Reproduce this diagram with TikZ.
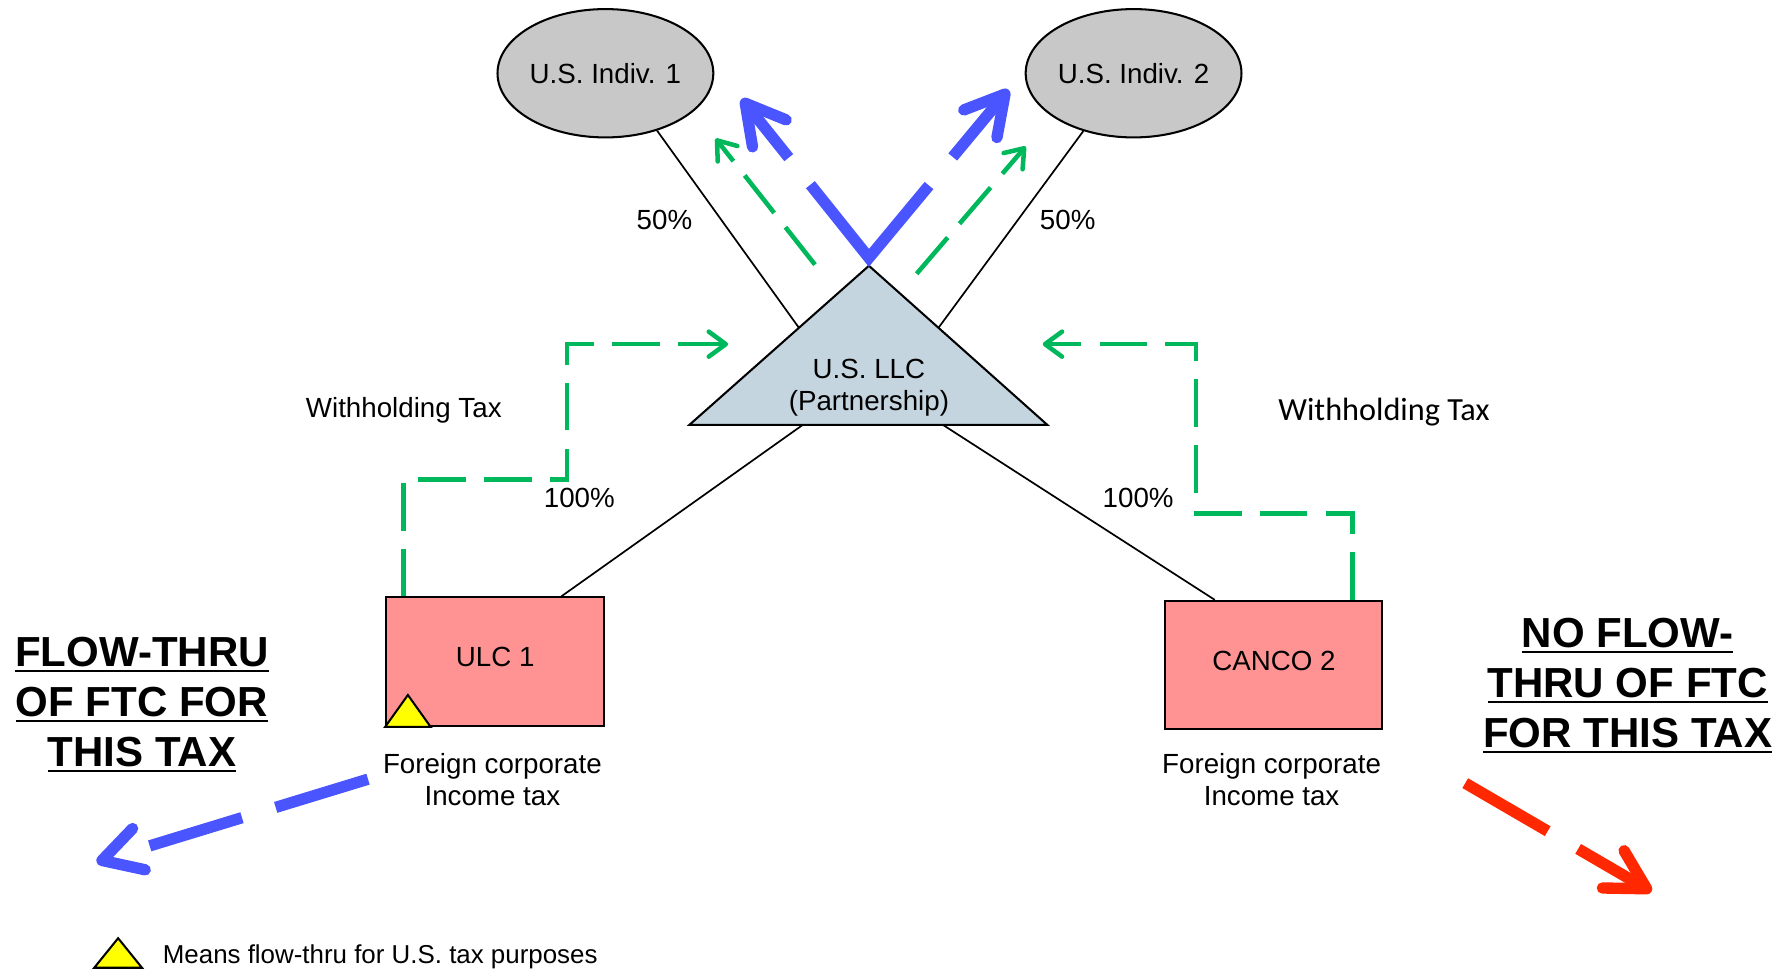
\documentclass[tikz,border=0pt]{standalone}
\usepackage{fontspec}
\setmainfont{Liberation Sans}
\newfontfamily\calfont{Carlito}
\usetikzlibrary{arrows.meta,calc,shapes.geometric}

\definecolor{flowblue}{HTML}{4B55FF}
\definecolor{whgreen}{HTML}{00B85C}
\definecolor{noflowred}{HTML}{FF2800}
\definecolor{corppink}{HTML}{FF9393}
\definecolor{indivgray}{HTML}{C8C8C8}
\definecolor{llcblue}{HTML}{C5D5DF}
\definecolor{flagyellow}{HTML}{FFFF00}

% bold heading line with a thick underline
\newcommand\headul[1]{\setbox0\hbox{#1}\rlap{\rule[-2.4pt]{\wd0}{0.9pt}}\box0}

\tikzset{
  base text/.style={font=\fontsize{12.2pt}{14pt}\selectfont, inner sep=0pt},
  lbl/.style={base text, anchor=base},
  indiv/.style={ellipse, draw, line width=0.9pt, fill=indivgray,
    minimum width=95pt, minimum height=56.5pt, base text},
  corp/.style={rectangle, draw, line width=0.9pt, fill=corppink,
    minimum height=56.5pt, base text, text depth=4pt},
  own/.style={draw, line width=0.75pt},
  wht/.style={whgreen, line width=2pt, dash pattern=on 21pt off 8pt,
    -{Straight Barb[round, length=7.5pt, width=11pt]}},
  bigarrow/.style={line width=5pt},
  bigtip/.style={-{Straight Barb[round, length=17pt, width=19pt]}},
  headline/.style={font=\fontsize{18.5pt}{22pt}\selectfont\bfseries,
    align=center, inner sep=0pt, anchor=north},
  flag/.style={draw, line width=0.9pt, fill=flagyellow, line join=miter},
}

\begin{document}
\begin{tikzpicture}[x=0.5pt, y=-0.5pt]
\useasboundingbox (0,0) rectangle (1568,854);

% partnership triangle corners
\coordinate (llc-top) at (765,234);
\coordinate (llc-l) at (607,374);
\coordinate (llc-r) at (922,374);

% entities
\node[indiv] (ind1) at (533,64.5) {U.S. Indiv. 1};
\node[indiv] (ind2) at (998,64.5) {U.S. Indiv. 2};
\node[corp, minimum width=96pt] (ulc) at (436,582.5) {ULC 1};
\node[corp, minimum width=95.5pt] (canco) at (1121.5,585.5) {CANCO 2};

% ownership lines
\draw[own] (ind1.-48) -- ($(llc-top)!0.39!(llc-l)$);
\draw[own] (ind2.-131) -- ($(llc-top)!0.39!(llc-r)$);
\draw[own] ($(llc-l)!0.317!(llc-r)$) -- ($(ulc.north west)!0.80!(ulc.north east)$);
\draw[own] ($(llc-l)!0.708!(llc-r)$) -- ($(canco.north west)!0.23!(canco.north east)$);

% the LLC itself
\draw[line width=0.9pt, fill=llcblue, line join=miter] (llc-top) -- (llc-l) -- (llc-r) -- cycle;
\node[base text, align=center, anchor=north] (llc) at (765,316) {U.S. LLC\\(Partnership)};

% flow-thru marker on ULC 1
\draw[flag] (ulc.south west) -- ++(40,0) -- ($(ulc.south west)+(20,-28)$) -- cycle;

% ownership percentages
\node[lbl] (pct1) at (585,201.7) {50\%};
\node[lbl] (pct2) at (940,201.7) {50\%};
\node[lbl] (pct3) at (510,446.7) {100\%};
\node[lbl] (pct4) at (1002,446.7) {100\%};

% withholding tax flows
\node[lbl] (whtxtL) at (355.5,367.7) {Withholding Tax};
\node[lbl, font=\calfont\fontsize{14.2pt}{16pt}\selectfont] (whtxtR) at (1218.5,370) {Withholding Tax};
\coordinate (whL) at (641,303);
\coordinate (whR) at (918,303);
\draw[wht] ($(ulc.north west)!0.083!(ulc.north east)$) |- (499,422) |- (whL);
\draw[wht] ($(canco.north west)!0.86!(canco.north east)$) |- (1053,452) |- (whR);

% credits passed up to the members
\coordinate (gl0) at (717.5,233);
\coordinate (gl1) at (630,122);
\coordinate (gr0) at (807,241);
\coordinate (gr1) at (903,129);
\draw[wht] (gl0) -- (gl1);
\draw[wht] (gr0) -- (gr1);

\coordinate (bv) at (765,227);
\coordinate (bl) at (653,87);
\coordinate (br) at (888,79);
\draw[flowblue, bigarrow, line join=miter] ($(bv)!0.46!(bl)$) -- (bv) -- ($(bv)!0.43!(br)$);
\draw[flowblue, bigarrow, bigtip] ($(bv)!0.63!(bl)$) -- (bl);
\draw[flowblue, bigarrow, bigtip] ($(bv)!0.60!(br)$) -- (br);

% foreign corporate income tax
\node[base text, align=center, anchor=north] (tax1) at (433.5,663) {Foreign corporate\\Income tax};
\node[base text, align=center, anchor=north] (tax2) at (1119.5,663) {Foreign corporate\\Income tax};

\coordinate (fl0) at (324,686);
\coordinate (fl1) at (85,759);
\draw[flowblue, bigarrow, bigtip, dash pattern=on 42.5pt off 15.5pt on 42.5pt off 30pt] (fl0) -- (fl1);

\coordinate (nf0) at (1290,689.5);
\coordinate (nf1) at (1454,785);
\draw[noflowred, bigarrow, bigtip, dash pattern=on 42pt off 15.5pt on 100pt] (nf0) -- (nf1);

% headings
\node[headline] (flowthru) at (125,560.5) {\headul{FLOW-THRU}\\\headul{OF FTC FOR}\\\headul{THIS TAX}};
\node[headline] (noflow) at (1433,544) {\headul{NO FLOW-}\\\headul{THRU OF FTC}\\\headul{FOR THIS TAX}};

% legend
\coordinate (leg) at (83,852);
\draw[flag] (leg) -- ++(42,0) -- ($(leg)+(21,-26)$) -- cycle;
\node[lbl, anchor=base west, font=\fontsize{11.4pt}{14pt}\selectfont] (legend) at (143,848.7) {Means flow-thru for U.S. tax purposes};
\end{tikzpicture}
\end{document}
